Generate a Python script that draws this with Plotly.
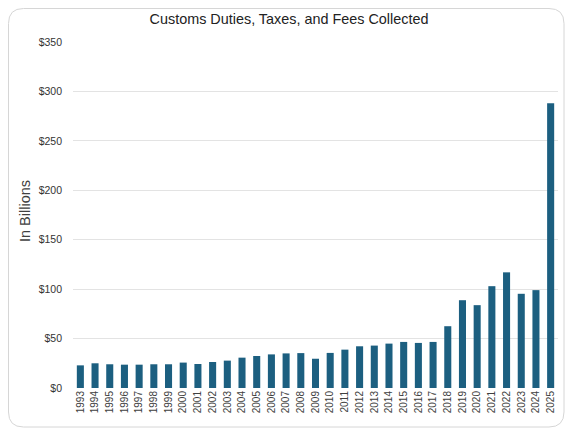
import plotly.graph_objects as go

years = [str(y) for y in range(1993, 2026)]
collected = [22.9, 25.0, 24.0, 23.6, 23.6, 24.0, 24.0, 25.7, 24.3, 26.3,
             27.7, 30.7, 32.4, 34.0, 35.0, 35.3, 29.6, 35.5, 38.8, 42.2,
             42.9, 44.9, 46.6, 45.6, 46.6, 62.5, 88.8, 83.8, 103.0, 117.0,
             95.3, 99.0, 288.0]
y_ticks = [0, 50, 100, 150, 200, 250, 300, 350]
y_labels = ['$' + str(v) for v in y_ticks]

# page body has an 8px margin, so the figure is a bit smaller than the window
W, H = 570, 427
ml, mr, mt, mb = 65, 20, 34, 47

fig = go.Figure()
fig.add_trace(go.Bar(x=years, y=collected, marker=dict(color='#1c5f80', line=dict(width=0))))

# card border with rounded corners, pixel positions converted to paper coords
def px(x):
    return (x - ml) / (W - ml - mr)

def py(y):
    return (H - mb - y) / (H - mt - mb)

x0, x1, y0, y1, r = 0.5, 556, 0.5, 419, 15
path = (f"M {px(x0 + r)},{py(y0)} L {px(x1 - r)},{py(y0)} "
        f"Q {px(x1)},{py(y0)} {px(x1)},{py(y0 + r)} "
        f"L {px(x1)},{py(y1 - r)} Q {px(x1)},{py(y1)} {px(x1 - r)},{py(y1)} "
        f"L {px(x0 + r)},{py(y1)} Q {px(x0)},{py(y1)} {px(x0)},{py(y1 - r)} "
        f"L {px(x0)},{py(y0 + r)} Q {px(x0)},{py(y0)} {px(x0 + r)},{py(y0)} Z")
fig.add_shape(type='path', path=path, xref='paper', yref='paper',
              line=dict(color='#d6d6d6', width=1), layer='below')

# y axis title placed as annotation (sits a little above the plot middle)
fig.add_annotation(text='In Billions', textangle=-90, showarrow=False,
                   xref='paper', yref='paper', x=px(17), y=py(203),
                   xanchor='center', yanchor='middle',
                   font=dict(size=14.5, color='#404040'))

fig.update_layout(
    width=W, height=H,
    margin=dict(l=ml, r=mr, t=mt, b=mb),
    paper_bgcolor='white', plot_bgcolor='white',
    font=dict(family='Liberation Sans, Arial, sans-serif', color='#404040', size=10),
    title=dict(text='Customs Duties, Taxes, and Fees Collected', x=0.493, xref='container',
               xanchor='center', y=1 - 11 / H, yref='container', yanchor='middle',
               font=dict(size=14.4, color='#222222')),
    bargap=0.52,
    showlegend=False,
)
fig.update_xaxes(tickangle=-90, showgrid=False, showline=False, ticks='',
                 tickfont=dict(size=10, color='#404040'))
fig.update_yaxes(range=[0, 350], tickvals=y_ticks, ticktext=y_labels,
                 showgrid=True, gridcolor='#e3e3e3', gridwidth=1,
                 zeroline=False, showline=False, ticks='', ticklabelstandoff=10,
                 tickfont=dict(size=10.5, color='#333333'))

fig.write_html("out.html")
